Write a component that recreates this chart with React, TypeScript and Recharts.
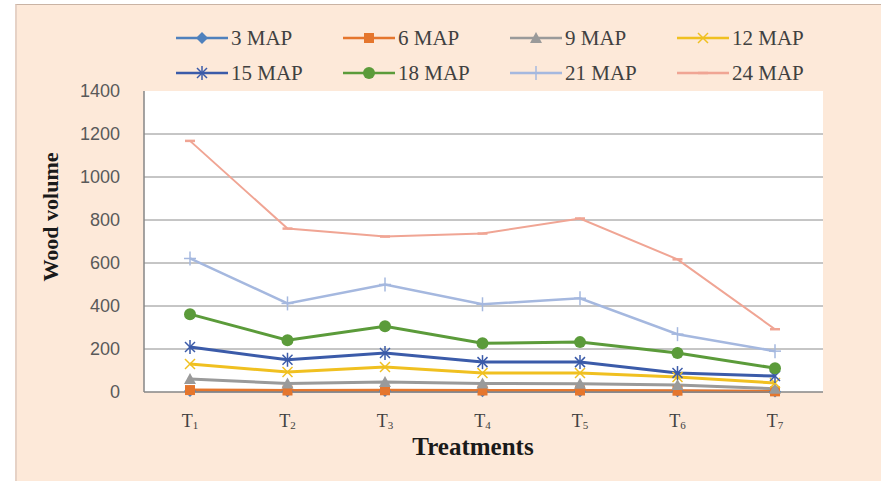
import React from 'react';
import { LineChart, Line, XAxis, YAxis, CartesianGrid, Legend } from 'recharts';

const treatments = ['T1', 'T2', 'T3', 'T4', 'T5', 'T6', 'T7'];
const seriesNames = ['3 MAP', '6 MAP', '9 MAP', '12 MAP', '15 MAP', '18 MAP', '21 MAP', '24 MAP'];
const map3 = [5, 4, 5, 4, 4, 3, 2];
const map6 = [9, 7, 8, 7, 7, 6, 3];
const map9 = [60, 40, 46, 40, 38, 32, 15];
const map12 = [130, 93, 116, 88, 88, 70, 42];
const map15 = [209, 150, 181, 139, 139, 88, 74];
const map18 = [362, 241, 306, 227, 232, 181, 111];
const map21 = [621, 412, 500, 408, 436, 269, 190];
const map24 = [1168, 760, 723, 737, 807, 617, 292];
const yTicks = [0, 200, 400, 600, 800, 1000, 1200, 1400];
const gridValues = [200, 400, 600, 800, 1000, 1200];

const seriesValues = [map3, map6, map9, map12, map15, map18, map21, map24];
const seriesColors = ['#4F81BD', '#E5762D', '#9A9A9A', '#F0C020', '#3B5BA9', '#5B9B3A', '#A5B8DF', '#F0A594'];
const seriesShapes = ['diamond', 'square', 'triangle', 'x', 'star', 'circle', 'plus', 'dash'];
const seriesWidths = [3, 3, 3, 3, 3, 3, 2.5, 2];

const data = treatments.map((t, i) => {
  const row: any = { name: t };
  seriesNames.forEach((s, k) => {
    row['s' + k] = seriesValues[k][i];
  });
  return row;
});

function Marker({ shape, cx, cy, color }: any) {
  if (cx == null || cy == null) return null;
  switch (shape) {
    case 'diamond':
      return <path d={`M${cx},${cy - 6}L${cx + 6},${cy}L${cx},${cy + 6}L${cx - 6},${cy}Z`} fill={color} />;
    case 'square':
      return <rect x={cx - 5} y={cy - 5} width={10} height={10} fill={color} />;
    case 'triangle':
      return <path d={`M${cx},${cy - 6}L${cx + 6},${cy + 5}L${cx - 6},${cy + 5}Z`} fill={color} />;
    case 'x':
      return (
        <g stroke={color} strokeWidth={1.5}>
          <line x1={cx - 5} y1={cy - 5} x2={cx + 5} y2={cy + 5} />
          <line x1={cx - 5} y1={cy + 5} x2={cx + 5} y2={cy - 5} />
        </g>
      );
    case 'star':
      return (
        <g stroke={color} strokeWidth={1.5}>
          <line x1={cx - 5} y1={cy - 5} x2={cx + 5} y2={cy + 5} />
          <line x1={cx - 5} y1={cy + 5} x2={cx + 5} y2={cy - 5} />
          <line x1={cx} y1={cy - 7} x2={cx} y2={cy + 7} />
        </g>
      );
    case 'circle':
      return <circle cx={cx} cy={cy} r={6} fill={color} />;
    case 'plus':
      return (
        <g stroke={color} strokeWidth={1.5}>
          <line x1={cx - 6} y1={cy} x2={cx + 6} y2={cy} />
          <line x1={cx} y1={cy - 7} x2={cx} y2={cy + 7} />
        </g>
      );
    case 'dash':
      return <line x1={cx - 5} y1={cy} x2={cx + 5} y2={cy} stroke={color} strokeWidth={2.5} />;
    default:
      return null;
  }
}

const legendColX = [176, 343, 510, 677];
const legendRowY = [38, 73];

function renderLegend(props: any) {
  const payload = [...(props.payload || [])].sort(
    (a: any, b: any) => seriesNames.indexOf(a.value) - seriesNames.indexOf(b.value)
  );
  return (
    <div style={{ position: 'relative', width: 881, height: 91 }}>
      {payload.map((entry: any, i: number) => {
        const k = seriesNames.indexOf(entry.value);
        const left = legendColX[i % 4];
        const top = legendRowY[Math.floor(i / 4)];
        return (
          <div key={entry.value} style={{ position: 'absolute', left, top: top - 14, height: 28, display: 'flex', alignItems: 'center' }}>
            <svg width={52} height={28} style={{ display: 'block' }}>
              <line x1={0} y1={14} x2={52} y2={14} stroke={seriesColors[k]} strokeWidth={2.5} />
              <Marker shape={seriesShapes[k]} cx={26} cy={14} color={seriesColors[k]} />
            </svg>
            <span style={{ marginLeft: 3, fontFamily: '"Liberation Serif", "Times New Roman", serif', fontSize: 21, color: '#404040', lineHeight: '28px', whiteSpace: 'nowrap' }}>
              {entry.value}
            </span>
          </div>
        );
      })}
    </div>
  );
}

function XTick(props: any) {
  const { x, y, payload } = props;
  const label: string = payload.value;
  return (
    <text x={x} y={y + 35} textAnchor="middle" fontFamily='"Liberation Serif", serif' fontSize={18} fill="#404040">
      <tspan>{label.slice(0, 1)}</tspan>
      <tspan fontSize={11} dy={2}>{label.slice(1)}</tspan>
    </text>
  );
}

function XLabel(props: any) {
  return (
    <text x={473} y={455} textAnchor="middle" fontFamily='"Liberation Serif", serif' fontWeight="bold" fontSize={25} fill="#1a1a1a">
      Treatments
    </text>
  );
}

function YLabel(props: any) {
  return (
    <text x={58} y={217} transform="rotate(-90 58 217)" textAnchor="middle" fontFamily='"Liberation Serif", serif' fontWeight="bold" fontSize={22} fill="#1a1a1a">
      Wood volume
    </text>
  );
}

export default function App() {
  return (
    <div style={{ position: 'absolute', left: 0, top: 0, width: 881, height: 481, background: '#ffffff', overflow: 'hidden' }}>
      <div
        style={{
          position: 'absolute',
          left: 15,
          top: 4,
          width: 866,
          height: 477,
          background: '#FDE9D9',
          borderTop: '1.5px solid #C9B3A4',
          borderLeft: '2px solid #E6D2C6',
          boxSizing: 'border-box',
        }}
      />
      <div style={{ position: 'absolute', left: 0, top: 0 }}>
        <LineChart width={881} height={481} data={data} margin={{ top: 91, right: 58, bottom: 0, left: 84 }}>
          <CartesianGrid vertical={false} horizontalValues={gridValues} stroke="#8C8C8C" strokeWidth={1} fill="#FFFFFF" />
          <XAxis
            dataKey="name"
            interval={0}
            padding={{ left: 46, right: 48 }}
            height={89}
            axisLine={{ stroke: '#868686', strokeWidth: 1.5 }}
            tickLine={false}
            tickSize={0}
            tickMargin={0}
            tick={<XTick />}
            label={XLabel}
          />
          <YAxis
            width={60}
            domain={[0, 1400]}
            ticks={yTicks}
            interval={0}
            axisLine={{ stroke: '#868686', strokeWidth: 1.5 }}
            tickLine={false}
            tickSize={0}
            tickMargin={24}
            tick={{ fill: '#595959', fontSize: 18, fontFamily: '"Liberation Sans", Arial, sans-serif' }}
            label={YLabel}
          />
          <Legend
            layout="horizontal"
            verticalAlign="middle"
            align="center"
            wrapperStyle={{ position: 'absolute', left: 0, top: 0, width: 881, height: 91 }}
            content={renderLegend}
          />
          {seriesNames.map((name, k) => (
            <Line
              key={name}
              name={name}
              dataKey={'s' + k}
              type="linear"
              stroke={seriesColors[k]}
              strokeWidth={seriesWidths[k]}
              isAnimationActive={false}
              dot={(p: any) => <Marker key={name + '-' + p.index} shape={seriesShapes[k]} cx={p.cx} cy={p.cy} color={seriesColors[k]} />}
              activeDot={false}
            />
          ))}
        </LineChart>
      </div>
    </div>
  );
}
